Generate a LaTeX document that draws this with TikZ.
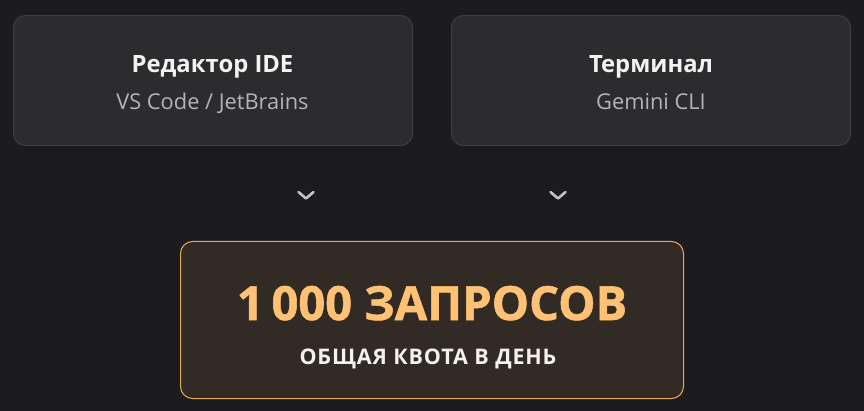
\documentclass[tikz,border=0pt]{standalone}
\usepackage{fontspec}
\setmainfont{Open Sans}
\definecolor{bg}{HTML}{1C1C1E}
\definecolor{cardfill}{HTML}{2C2C2E}
\definecolor{cardline}{HTML}{3E3E41}
\definecolor{subtxt}{HTML}{B4B4B8}
\definecolor{chev}{HTML}{C4C4C6}
\definecolor{quotafill}{HTML}{322B25}
\definecolor{quotaline}{HTML}{E9A85A}
\definecolor{quotatxt}{HTML}{FFC173}
\definecolor{lighttxt}{HTML}{F2F2F2}
\begin{document}
\begin{tikzpicture}[x=1pt,y=-1pt,
  card/.style={draw=cardline,fill=cardfill,line width=1pt,rounded corners=12pt},
  quota/.style={draw=quotaline,fill=quotafill,line width=1pt,rounded corners=12pt},
  ttl/.style={text=lighttxt,font=\fontsize{23.8}{26}\selectfont\bfseries,inner sep=0pt},
  sub/.style={text=subtxt,font=\fontsize{21.8}{24}\selectfont,inner sep=0pt},
  chevron/.style={draw=chev,line width=2.6pt,line cap=round,line join=round}]
\fill[bg] (0,0) rectangle (864,411);
\useasboundingbox (0,0) rectangle (864,411);
\draw[card] (13.5,15.5) rectangle (412.5,145.5);
\draw[card] (451.5,15.5) rectangle (850.5,145.5);
\node[ttl,anchor=base] (t1) at (212.5,73) {Редактор IDE};
\node[sub,anchor=base] (s1) at (212.5,109.5) {VS Code / JetBrains};
\node[ttl,anchor=base] (t2) at (651,73) {Терминал};
\node[sub,anchor=base] (s2) at (651,109.5) {Gemini CLI};
\coordinate (c1) at (306,198.5);
\coordinate (c2) at (558,198.5);
\draw[chevron] ([shift={(-7.5,-6.5)}]c1) -- (c1) -- ([shift={(7.5,-6.5)}]c1);
\draw[chevron] ([shift={(-7.5,-6.5)}]c2) -- (c2) -- ([shift={(7.5,-6.5)}]c2);
\draw[quota] (180.5,241.5) rectangle (683.5,398.5);
\node[text=quotatxt,font=\fontsize{47}{50}\selectfont\bfseries,inner sep=0pt,anchor=base] (q) at (432,320) {\addfontfeature{FakeBold=1.2}1\,000 ЗАПРОСОВ};
\node[text=lighttxt,font=\fontsize{21.5}{24}\selectfont\bfseries,inner sep=0pt,anchor=base] (qs) at (428,364) {\addfontfeature{LetterSpace=4}ОБЩАЯ КВОТА В ДЕНЬ};
\end{tikzpicture}
\end{document}
